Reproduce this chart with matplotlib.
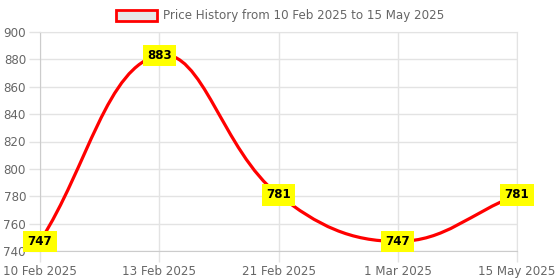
import numpy as np
import matplotlib
matplotlib.use("Agg")
import matplotlib.pyplot as plt
from matplotlib.path import Path
from matplotlib.patches import PathPatch, Patch

dates = ["10 Feb 2025", "13 Feb 2025", "21 Feb 2025", "1 Mar 2025", "15 May 2025"]
prices = [747, 883, 781, 747, 781]
legend_label = "Price History from 10 Feb 2025 to 15 May 2025"

W, H = 560, 280
fig = plt.figure(figsize=(W / 100, H / 100), dpi=100)
ax = fig.add_axes([40 / W, (H - 251) / H, (517 - 40) / W, (251 - 32) / H])

x = np.arange(len(dates))
ax.set_xlim(0, len(dates) - 1)
ax.set_ylim(740, 900)
ax.set_yticks(np.arange(740, 901, 20))
ax.set_xticks(x)
ax.set_xticklabels(dates)

grid_c = "#e3e3e3"
ax.grid(True, color=grid_c, linewidth=1)
ax.set_axisbelow(True)
for s in ax.spines.values():
    s.set_color(grid_c)
ax.spines["left"].set_color("#cccccc")
ax.spines["bottom"].set_color("#cccccc")
ax.tick_params(colors=grid_c, labelcolor="#666666", labelsize=8.6, length=8, width=1, pad=2)

# smooth curve like Chart.js (tension 0.4), computed in pixel space
fig.canvas.draw()
pts = ax.transData.transform(np.column_stack([x, prices]))
n = len(pts)
tension = 0.4
cp_prev = []
cp_next = []
for i in range(n):
    p = pts[i]
    a = pts[i - 1] if i > 0 else p
    b = pts[i + 1] if i < n - 1 else p
    d01 = np.hypot(*(p - a))
    d12 = np.hypot(*(b - p))
    tot = d01 + d12
    s01 = d01 / tot if tot else 0
    s12 = d12 / tot if tot else 0
    cp_prev.append(p - tension * s01 * (b - a))
    cp_next.append(p + tension * s12 * (b - a))

verts = [pts[0]]
codes = [Path.MOVETO]
for i in range(n - 1):
    verts += [cp_next[i], cp_prev[i + 1], pts[i + 1]]
    codes += [Path.CURVE4] * 3
verts = ax.transData.inverted().transform(np.array(verts))
ax.add_patch(PathPatch(Path(verts, codes), facecolor="none", edgecolor="red",
                       linewidth=2.3, capstyle="round", joinstyle="round",
                       clip_on=False, zorder=3))

for xi, yi in zip(x, prices):
    ax.text(xi, yi, str(yi), ha="center", va="center", fontsize=8.6,
            fontweight="bold", color="black", zorder=5, clip_on=False,
            bbox=dict(boxstyle="square,pad=0.35", facecolor="yellow", edgecolor="none"))

handle = Patch(facecolor="#e6e6e6", edgecolor="red", linewidth=2)
leg = fig.legend([handle], [legend_label], loc="center", bbox_to_anchor=(0.5, 1 - 16 / H),
                 frameon=False, fontsize=8.6, handlelength=3.4, handleheight=1.1,
                 handletextpad=0.5, borderaxespad=0)
for t in leg.get_texts():
    t.set_color("#666666")

fig.savefig("out.png", dpi=100)
